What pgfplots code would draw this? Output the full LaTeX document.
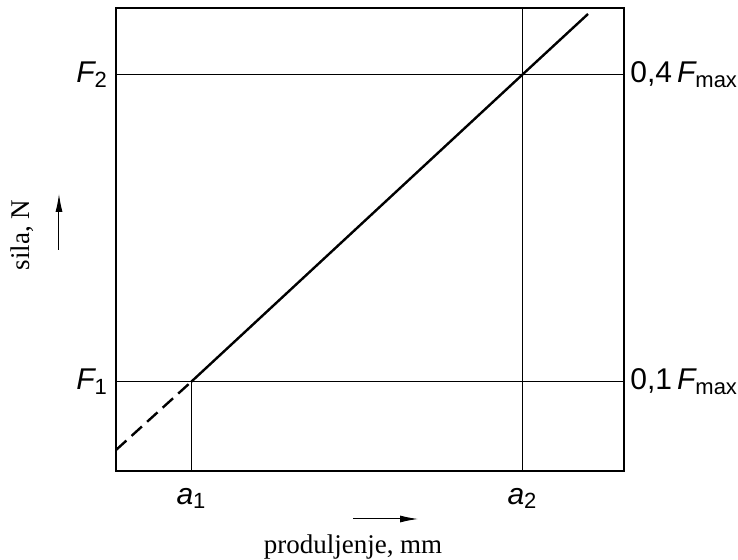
\documentclass[border=0pt]{standalone}
\usepackage{fontspec}
\setmainfont{Liberation Serif}
\setsansfont{Liberation Sans}
\usepackage{pgfplots}
\usetikzlibrary{arrows.meta}
\pgfplotsset{compat=1.18}
\newcommand{\lblfont}{\sffamily\fontsize{15}{18}\selectfont}
\newcommand{\sub}[1]{\raisebox{-0.3ex}{\fontsize{11}{13}\selectfont\upshape #1}}
\begin{document}
\begin{tikzpicture}[x=1pt,y=1pt]
\useasboundingbox (-58pt,-44.5pt) rectangle (311pt,235.5pt);
\begin{axis}[
  at={(0,0)}, anchor=south west,
  scale only axis, width=254pt, height=231.5pt,
  xmin=0, xmax=508, ymin=0, ymax=463,
  axis line style={line width=0.8pt},
  clip=false,
  xtick={75,406}, xticklabels={{\itshape a\sub{1}},{\itshape a\sub{2}}},
  ytick={89,396}, yticklabels={{\itshape F\sub{1}},{\itshape F\sub{2}}},
  major tick length=0pt,
  tick label style={font=\lblfont},
  xticklabel style={yshift=-5pt},
  yticklabel style={xshift=-1pt},
]
% grid lines
\addplot[black, line width=0.5pt] coordinates {(0,89) (508,89)};
\addplot[black, line width=0.5pt] coordinates {(0,396) (508,396)};
\addplot[black, line width=0.5pt] coordinates {(75,0) (75,89)};
\addplot[black, line width=0.5pt] coordinates {(406,0) (406,463)};
% characteristic line
\addplot[black, line width=1.2pt, dash pattern=on 7pt off 3.5pt] coordinates {(0,21) (75,89)};
\addplot[black, line width=1.2pt] coordinates {(75,89) (406,396) (472,457)};
% right-side labels
\node[anchor=west, font=\lblfont, inner sep=3pt] at (axis cs:508,396) {0,4\,\itshape F\sub{max}};
\node[anchor=west, font=\lblfont, inner sep=3pt] at (axis cs:508,89) {0,1\,\itshape F\sub{max}};
% axis titles with arrows
\node[rotate=90, font=\rmfamily\fontsize{13.5}{16}\selectfont] at (axis cs:-94,236) {sila, N};
\draw[-{Latex[length=9pt,width=3.5pt]}, line width=0.5pt] (axis cs:-57,221) -- (axis cs:-57,277);
\node[font=\rmfamily\fontsize{13.5}{16}\selectfont] at (axis cs:237,-76) {produljenje, mm};
\draw[-{Latex[length=9pt,width=3.5pt]}, line width=0.5pt] (axis cs:237,-48) -- (axis cs:302,-48);
\end{axis}
\end{tikzpicture}
\end{document}
